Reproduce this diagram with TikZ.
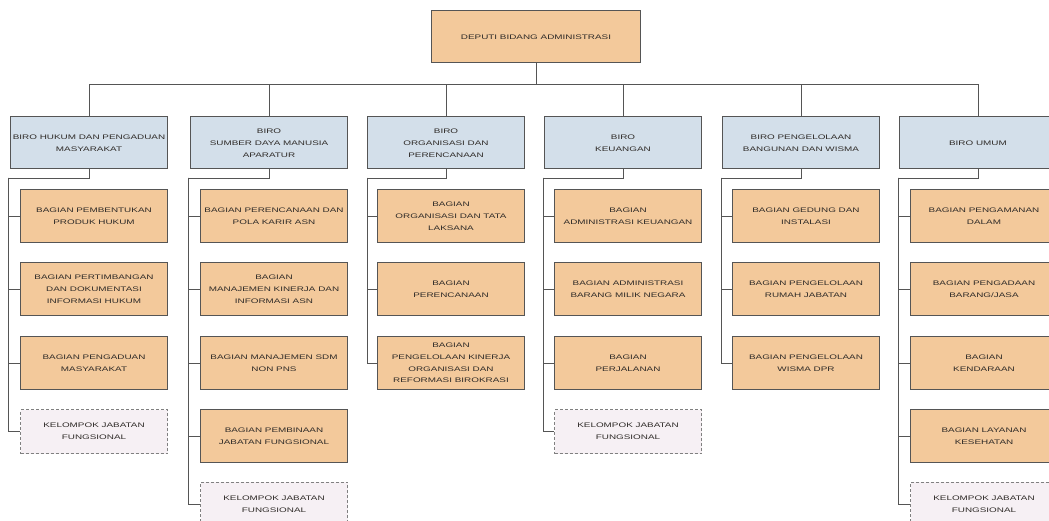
\documentclass[tikz,border=0pt]{standalone}
\usepackage{fontspec}
\newfontfamily\orgfont{Liberation Sans}[FakeStretch=1.5]
\usetikzlibrary{positioning}

\definecolor{peach}{HTML}{F3C99B}
\definecolor{lightblue}{HTML}{D3DFEA}
\definecolor{palepink}{HTML}{F6F0F4}
\definecolor{edge}{HTML}{555555}
\definecolor{ink}{HTML}{2F2B28}

\tikzset{
  box/.style={draw=edge, line width=1pt, align=center, inner sep=0pt, text=ink,
    font=\orgfont\fontsize{6.6}{11.8}\selectfont},
  deputi/.style={box, fill=peach, minimum width=209pt, minimum height=52pt},
  biro/.style={box, fill=lightblue, minimum width=157pt, minimum height=52pt},
  bagian/.style={box, fill=peach, minimum width=147pt, minimum height=53pt},
  kelompok/.style={box, fill=palepink, draw=gray, densely dashed, minimum width=147pt, minimum height=44pt},
  conn/.style={draw=edge, line width=0.9pt},
}

\begin{document}
\begin{tikzpicture}[x=1pt, y=-1pt]
  \path[use as bounding box, fill=white] (0,0) rectangle (1049,521);

  % top
  \node[deputi] (dep) at (536,37) {DEPUTI BIDANG ADMINISTRASI};

  % biro row
  \node[biro] (b1) at (89,143)  {BIRO HUKUM DAN PENGADUAN\\MASYARAKAT};
  \node[biro] (b2) at (269,143) {BIRO\\SUMBER DAYA MANUSIA\\APARATUR};
  \node[biro] (b3) at (446,143) {BIRO\\ORGANISASI DAN\\PERENCANAAN};
  \node[biro] (b4) at (623,143) {BIRO\\KEUANGAN};
  \node[biro] (b5) at (801,143) {BIRO PENGELOLAAN\\BANGUNAN DAN WISMA};
  \node[biro] (b6) at (978,143) {BIRO UMUM};

  % biro hukum
  \node[bagian]   (c11) at (94,216)   {BAGIAN PEMBENTUKAN\\PRODUK HUKUM};
  \node[bagian]   (c12) at (94,289)   {BAGIAN PERTIMBANGAN\\DAN DOKUMENTASI\\INFORMASI HUKUM};
  \node[bagian]   (c13) at (94,363)   {BAGIAN PENGADUAN\\MASYARAKAT};
  \node[kelompok] (c14) at (94,431.5) {KELOMPOK JABATAN\\FUNGSIONAL};

  % biro sdm
  \node[bagian]   (c21) at (274,216) {BAGIAN PERENCANAAN DAN\\POLA KARIR ASN};
  \node[bagian]   (c22) at (274,289) {BAGIAN\\MANAJEMEN KINERJA DAN\\INFORMASI ASN};
  \node[bagian]   (c23) at (274,363) {BAGIAN MANAJEMEN SDM\\NON PNS};
  \node[bagian]   (c24) at (274,436) {BAGIAN PEMBINAAN\\JABATAN FUNGSIONAL};
  \node[kelompok] (c25) at (274,504) {KELOMPOK JABATAN\\FUNGSIONAL};

  % biro organisasi
  \node[bagian] (c31) at (451,216) {BAGIAN\\ORGANISASI DAN TATA\\LAKSANA};
  \node[bagian] (c32) at (451,289) {BAGIAN\\PERENCANAAN};
  \node[bagian] (c33) at (451,363) {BAGIAN\\PENGELOLAAN KINERJA\\ORGANISASI DAN\\REFORMASI BIROKRASI};

  % biro keuangan
  \node[bagian]   (c41) at (628,216)   {BAGIAN\\ADMINISTRASI KEUANGAN};
  \node[bagian]   (c42) at (628,289)   {BAGIAN ADMINISTRASI\\BARANG MILIK NEGARA};
  \node[bagian]   (c43) at (628,363)   {BAGIAN\\PERJALANAN};
  \node[kelompok] (c44) at (628,431.5) {KELOMPOK JABATAN\\FUNGSIONAL};

  % biro bangunan
  \node[bagian] (c51) at (806,216) {BAGIAN GEDUNG DAN\\INSTALASI};
  \node[bagian] (c52) at (806,289) {BAGIAN PENGELOLAAN\\RUMAH JABATAN};
  \node[bagian] (c53) at (806,363) {BAGIAN PENGELOLAAN\\WISMA DPR};

  % biro umum
  \node[bagian]   (c61) at (984,216) {BAGIAN PENGAMANAN\\DALAM};
  \node[bagian]   (c62) at (984,289) {BAGIAN PENGADAAN\\BARANG/JASA};
  \node[bagian]   (c63) at (984,363) {BAGIAN\\KENDARAAN};
  \node[bagian]   (c64) at (984,436) {BAGIAN LAYANAN\\KESEHATAN};
  \node[kelompok] (c65) at (984,504) {KELOMPOK JABATAN\\FUNGSIONAL};

  % deputi to biro
  \coordinate (bus) at (536,84);
  \draw[conn] (dep.south) -- (bus);
  \foreach \b in {b1,b2,b3,b4,b5,b6}
    \draw[conn] (bus) -| (\b.north);

  % spines
  \coordinate (s1) at (8,178);
  \coordinate (s2) at (188,178);
  \coordinate (s3) at (367,178);
  \coordinate (s4) at (543,178);
  \coordinate (s5) at (721,178);
  \coordinate (s6) at (898,178);
  \foreach \s/\b in {s1/b1,s2/b2,s3/b3,s4/b4,s5/b5,s6/b6}
    \draw[conn] (\b.south) |- (\s);

  \foreach \c in {c11,c12,c13,c14} \draw[conn] (s1) |- (\c.west);
  \foreach \c in {c21,c22,c23,c24,c25} \draw[conn] (s2) |- (\c.west);
  \foreach \c in {c31,c32,c33} \draw[conn] (s3) |- (\c.west);
  \foreach \c in {c41,c42,c43,c44} \draw[conn] (s4) |- (\c.west);
  \foreach \c in {c51,c52,c53} \draw[conn] (s5) |- (\c.west);
  \foreach \c in {c61,c62,c63,c64,c65} \draw[conn] (s6) |- (\c.west);
\end{tikzpicture}
\end{document}
